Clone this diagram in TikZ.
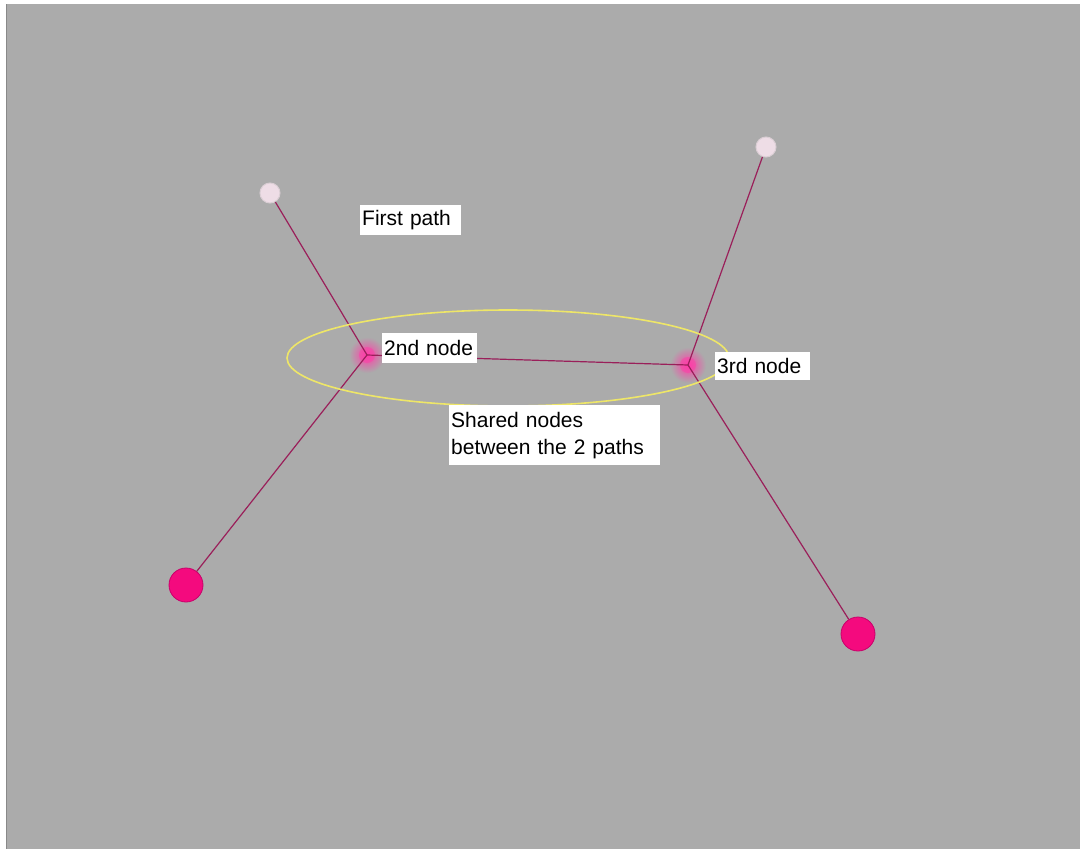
\documentclass[tikz,border=0pt]{standalone}
\usepackage{fontspec}
\setmainfont{Liberation Sans}
\definecolor{bggray}{HTML}{ABABAB}
\definecolor{edgecol}{HTML}{9A1F5A}
\definecolor{bigpink}{HTML}{F40A7E}
\definecolor{bigpinkrim}{HTML}{C8006A}
\definecolor{lightnode}{HTML}{EEDDE6}
\definecolor{glowpink}{HTML}{FF3CA8}
\definecolor{ellcol}{HTML}{EEE668}
\tikzset{
  bignode/.style={circle,fill=bigpink,draw=bigpinkrim,line width=0.8pt,minimum size=34pt,inner sep=0pt},
  endnode/.style={circle,fill=lightnode,draw=lightnode!70!bggray,line width=1pt,minimum size=20pt,inner sep=0pt},
  joinnode/.style={circle,minimum size=4pt,inner sep=0pt},
  edge/.style={draw=edgecol,line width=1.2pt},
  label/.style={fill=white,inner xsep=2pt,inner ysep=0pt,align=left,anchor=north west,
    font=\fontsize{21}{27}\selectfont,text=black},
}
\begin{document}
\begin{tikzpicture}[x=1pt,y=-1pt]
\useasboundingbox (0,0) rectangle (1080,849);
\fill[white] (0,0) rectangle (1080,849);
\fill[bggray] (6,4) rectangle (1080,849);
\draw[bggray!80!black,line width=0.8pt] (6.4,4) -- (6.4,849);
% glows for the shared nodes
\shade[inner color=glowpink,outer color=bggray] (367,355) circle[radius=18];
\fill[glowpink,opacity=0.5] (367,355) circle[radius=8];
\shade[inner color=glowpink,outer color=bggray] (688,365) circle[radius=18];
\fill[glowpink,opacity=0.5] (688,365) circle[radius=8];
% nodes
\node[endnode] (tl) at (270,193) {};
\node[endnode] (tr) at (766,147) {};
\node[joinnode] (n2) at (367,355) {};
\node[joinnode] (n3) at (688,365) {};
\node[bignode] (bl) at (186,585) {};
\node[bignode] (br) at (858,634) {};
% connectors
\draw[edge] (tl) -- (n2.center);
\draw[edge] (n2.center) -- (bl);
\draw[edge] (n2.center) -- (n3.center);
\draw[edge] (tr) -- (n3.center);
\draw[edge] (n3.center) -- (br);
% ellipse
\draw[ellcol,line width=1.6pt] (508,358) ellipse[x radius=221,y radius=48];
% labels
\node[label,text width=97pt,minimum height=30pt] (lfirst) at (360,205) {First path};
\node[label,text width=91pt,minimum height=30pt] (l2) at (382,333) {2nd node};
\node[label,text width=91pt,minimum height=28pt] (l3) at (715,352) {3rd node};
\node[label,text width=207pt,minimum height=60pt] (lshared) at (449,405) {Shared nodes\\between the 2 paths};
\end{tikzpicture}
\end{document}
